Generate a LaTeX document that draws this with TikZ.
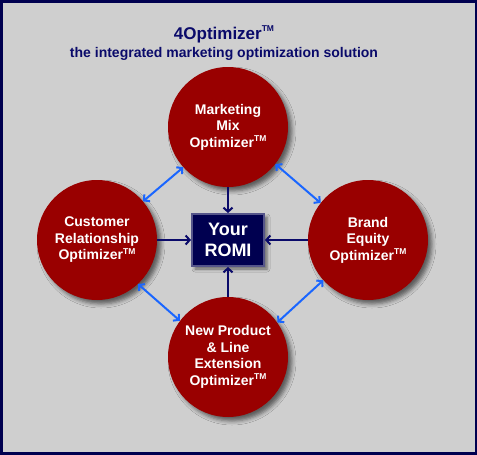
\documentclass[tikz,border=0pt]{standalone}
\usepackage{fontspec}
\setmainfont{Liberation Sans}
\usetikzlibrary{shadows.blur,arrows.meta}
\definecolor{framenavy}{HTML}{000050}
\definecolor{titlenavy}{HTML}{0A0A6A}
\definecolor{bgray}{HTML}{CFCFCF}
\definecolor{circred}{HTML}{990000}
\definecolor{boxnavy}{HTML}{000050}
\definecolor{bevel}{HTML}{55558A}
\definecolor{linkblue}{HTML}{1A66FF}
\newcommand\mytm{\raisebox{0.42em}{\fontsize{8.5}{8.5}\selectfont TM}}
\tikzset{
  opt/.style={circle, fill=circred, minimum size=120pt, inner sep=0pt, align=center,
    text=white, font=\fontsize{14}{16.5}\selectfont\bfseries,
    blur shadow={shadow xshift=4pt, shadow yshift=-4pt, shadow blur radius=4pt, shadow opacity=55}},
  romi/.style={rectangle, fill=boxnavy, draw=bevel, line width=2pt, minimum width=72pt, minimum height=52pt,
    inner sep=0pt, align=center, text=white, font=\fontsize{18}{21}\selectfont\bfseries,
    blur shadow={shadow xshift=3pt, shadow yshift=-3pt, shadow blur radius=3pt, shadow opacity=50}},
  feed/.style={draw=titlenavy, line width=2pt, -{Straight Barb[length=4pt,width=9pt]}},
  link/.style={draw=linkblue, line width=2pt, {Straight Barb[length=4pt,width=9pt]}-{Straight Barb[length=4pt,width=9pt]}},
  ttl/.style={text=titlenavy, anchor=base, inner sep=0pt}
}
\begin{document}
\begin{tikzpicture}[x=1pt,y=-1pt]
\fill[framenavy] (0,0) rectangle (477,455);
\fill[bgray] (2.5,2.5) rectangle (474.5,452);
\useasboundingbox (0,0) rectangle (477,455);

\node[ttl, font=\fontsize{17}{20}\selectfont\bfseries] (title) at (224,39) {4Optimizer\mytm};
\node[ttl, font=\fontsize{14}{17}\selectfont\bfseries] (sub) at (224,57) {the integrated marketing optimization solution};

\node[opt] (mm) at (228,127) {Marketing\\Mix\\Optimizer\mytm};
\node[opt] (cr) at (97,240) {Customer\\Relationship\\Optimizer\mytm};
\node[opt] (be) at (368,240) {Brand\\Equity\\Optimizer\mytm};
\node[opt] (np) at (228,357) {New Product\\\& Line\\Extension\\Optimizer\mytm};

\node[romi] (box) at (228,240) {Your\\ROMI};

\draw[feed] (mm) -- (box);
\draw[feed] (cr) -- (box);
\draw[feed] (be) -- (box);
\draw[feed] (np) -- (box);

\draw[link] (mm.222) -- (cr.40);
\draw[link] (mm.322) -- (be.142);
\draw[link] (cr.313) -- (np.143);
\draw[link] (be.222) -- (np.35);
\end{tikzpicture}
\end{document}
